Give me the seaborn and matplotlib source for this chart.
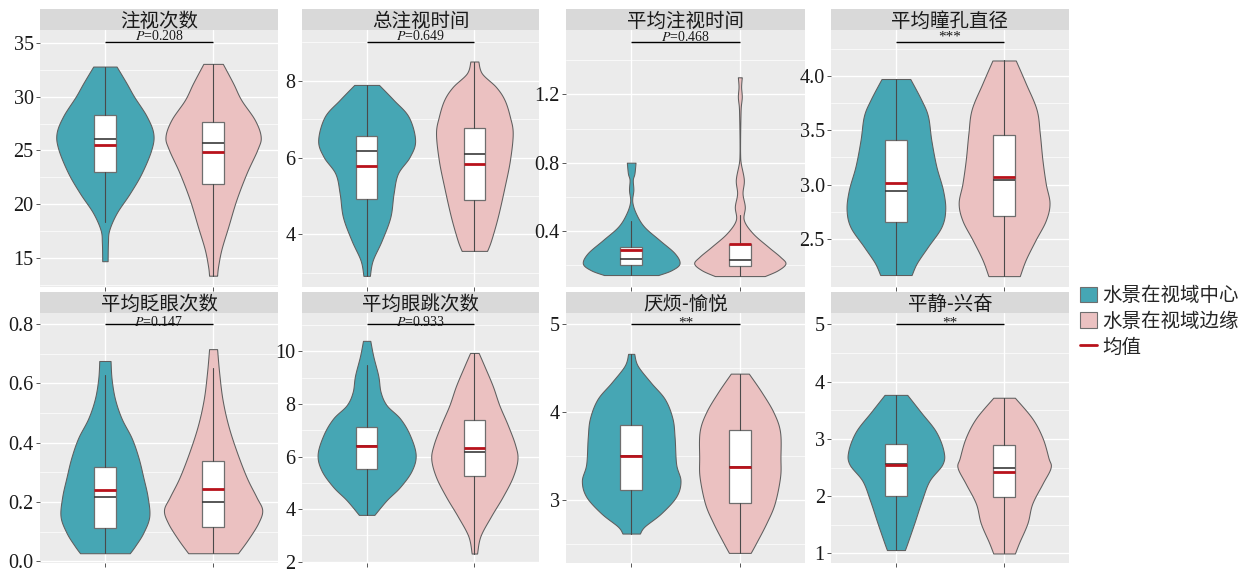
import numpy as np
import matplotlib
matplotlib.use("Agg")
import matplotlib.pyplot as plt
import matplotlib.transforms as mtrans
import seaborn as sns
from matplotlib.patches import Patch
from matplotlib.lines import Line2D
from matplotlib.ticker import MultipleLocator, AutoMinorLocator, FormatStrFormatter
from matplotlib.font_manager import FontProperties

# ---------------- data ----------------
titles = ["注视次数", "总注视时间", "平均注视时间", "平均瞳孔直径",
          "平均眨眼次数", "平均眼跳次数", "厌烦-愉悦", "平静-兴奋"]
groups = ["水景在视域中心", "水景在视域边缘"]
mean_label = "均值"

# significance annotations (bar height and label)
sig_y = [35.06, 9.0, 1.504, 4.31, 0.80, 11.03, 5.0, 5.0]
sig_p = ["0.208", "0.649", "0.468", None, "0.147", "0.933", None, None]
sig_stars = [None, None, None, "***", None, None, "**", "**"]

# violin density profiles: value levels and half-widths (group 1 = centre, group 2 = edge)
center_vy = [
    [32.8, 31.25, 30.0, 28.2, 26.6, 25.1, 22.9, 21.0, 19.2, 17.6, 16.4, 14.7],
    [7.89, 7.5, 7.06, 6.45, 6.02, 5.58, 5.06, 4.45, 3.84, 3.32, 2.92],
    [0.80, 0.737, 0.70, 0.64, 0.572, 0.50, 0.425, 0.347, 0.27, 0.21, 0.17, 0.142],
    [3.97, 3.78, 3.63, 3.41, 3.17, 2.95, 2.77, 2.61, 2.43, 2.28, 2.17],
    [0.676, 0.615, 0.548, 0.482, 0.416, 0.35, 0.283, 0.217, 0.151, 0.096, 0.052, 0.027],
    [10.4, 9.81, 9.07, 8.45, 7.95, 7.45, 6.83, 6.08, 5.46, 4.84, 4.34, 3.78],
    [4.665, 4.53, 4.34, 4.15, 3.93, 3.71, 3.41, 3.22, 3.04, 2.85, 2.70, 2.62],
    [3.77, 3.47, 3.13, 2.79, 2.56, 2.27, 1.93, 1.53, 1.19, 1.06],
]
center_vw = [
    [0.108, 0.20, 0.27, 0.385, 0.447, 0.43, 0.34, 0.23, 0.11, 0.04, 0.028, 0.025],
    [0.115, 0.25, 0.39, 0.45, 0.40, 0.29, 0.25, 0.22, 0.14, 0.056, 0.03],
    [0.04, 0.03, 0.015, 0.02, 0.01, 0.046, 0.12, 0.26, 0.40, 0.445, 0.37, 0.25],
    [0.133, 0.234, 0.296, 0.327, 0.373, 0.435, 0.456, 0.42, 0.296, 0.194, 0.145],
    [0.052, 0.062, 0.093, 0.154, 0.247, 0.31, 0.355, 0.395, 0.41, 0.355, 0.28, 0.23],
    [0.034, 0.062, 0.108, 0.13, 0.186, 0.31, 0.40, 0.455, 0.418, 0.31, 0.186, 0.072],
    [0.028, 0.06, 0.18, 0.31, 0.38, 0.40, 0.414, 0.454, 0.414, 0.276, 0.123, 0.08],
    [0.105, 0.23, 0.37, 0.44, 0.43, 0.31, 0.24, 0.17, 0.108, 0.083],
]
edge_vy = [
    [33.05, 31.25, 29.7, 27.85, 26.3, 25.1, 22.9, 20.4, 17.9, 15.8, 14.2, 13.35],
    [8.5, 8.19, 7.84, 7.5, 7.06, 6.63, 5.93, 5.23, 4.45, 3.84, 3.57],
    [1.30, 1.245, 1.186, 1.128, 1.07, 0.95, 0.85, 0.796, 0.70, 0.62, 0.542, 0.464,
     0.386, 0.308, 0.25, 0.21, 0.17, 0.136],
    [4.14, 3.93, 3.69, 3.47, 3.23, 3.01, 2.83, 2.67, 2.49, 2.31, 2.16],
    [0.716, 0.637, 0.548, 0.46, 0.372, 0.283, 0.217, 0.173, 0.129, 0.074, 0.027],
    [9.94, 9.44, 8.69, 7.95, 7.2, 6.45, 5.9, 5.22, 4.47, 3.73, 2.97, 2.31],
    [4.44, 4.23, 4.0, 3.78, 3.48, 3.26, 2.96, 2.74, 2.52, 2.40],
    [3.72, 3.36, 3.02, 2.67, 2.5, 2.22, 1.87, 1.53, 1.19, 1.0],
]
edge_vw = [
    [0.09, 0.185, 0.26, 0.385, 0.44, 0.41, 0.31, 0.215, 0.14, 0.077, 0.046, 0.037],
    [0.037, 0.07, 0.2, 0.28, 0.33, 0.356, 0.33, 0.28, 0.217, 0.155, 0.118],
    [0.018, 0.012, 0.018, 0.009, 0.006, 0.003, 0.003, 0.009, 0.037, 0.025, 0.046, 0.037,
     0.12, 0.26, 0.37, 0.42, 0.35, 0.23],
    [0.108, 0.2, 0.3, 0.33, 0.354, 0.385, 0.42, 0.385, 0.29, 0.2, 0.145],
    [0.037, 0.056, 0.086, 0.139, 0.216, 0.31, 0.40, 0.454, 0.417, 0.324, 0.23],
    [0.04, 0.093, 0.17, 0.232, 0.31, 0.378, 0.40, 0.356, 0.263, 0.155, 0.056, 0.025],
    [0.083, 0.2, 0.31, 0.37, 0.374, 0.37, 0.32, 0.245, 0.153, 0.1],
    [0.1, 0.26, 0.355, 0.41, 0.43, 0.355, 0.26, 0.216, 0.139, 0.1],
]

# box statistics per panel
center_q1 = [22.96, 4.92, 0.200, 2.66, 0.113, 5.53, 3.12, 2.00]
center_med = [26.06, 6.17, 0.238, 2.94, 0.216, 6.39, 3.50, 2.56]
center_q3 = [28.25, 6.56, 0.308, 3.41, 0.319, 7.11, 3.86, 2.91]
center_lo = [18.3, 2.92, 0.142, 2.17, 0.027, 3.78, 2.62, 1.06]
center_hi = [32.8, 7.89, 0.460, 3.97, 0.628, 9.47, 4.665, 3.77]
center_mean = [25.5, 5.78, 0.289, 3.015, 0.239, 6.39, 3.50, 2.54]

edge_q1 = [21.9, 4.90, 0.197, 2.71, 0.116, 5.27, 2.97, 1.98]
edge_med = [25.7, 6.08, 0.230, 3.04, 0.200, 6.19, 3.38, 2.50]
edge_q3 = [27.6, 6.77, 0.322, 3.46, 0.340, 7.40, 3.80, 2.89]
edge_lo = [13.35, 3.57, 0.136, 2.16, 0.027, 2.31, 2.40, 1.00]
edge_hi = [33.05, 8.5, 0.494, 4.14, 0.653, 9.94, 4.44, 3.72]
edge_mean = [24.9, 5.84, 0.322, 3.07, 0.243, 6.31, 3.38, 2.43]

# axis layout per panel
y_limits = [(12.3, 36.2), (2.63, 9.32), (0.072, 1.577), (2.06, 4.42),
            (-0.006, 0.838), (1.95, 11.46), (2.285, 5.13), (0.834, 5.2)]
y_steps = [5, 2, 0.4, 0.5, 0.2, 2, 1, 1]
y_decimals = [0, 0, 1, 1, 1, 0, 0, 0]

# ---------------- style ----------------
teal = "#46A6B4"
pink = "#EBC1C1"
mean_red = "#B8121B"
outline = "#5E5E5E"

sns.set_theme(style="darkgrid", rc={
    "axes.facecolor": "#EBEBEB",
    "grid.color": "white",
    "axes.edgecolor": "#EBEBEB",
})
plt.rcParams["font.family"] = ["Liberation Serif", "Noto Sans CJK SC"]
plt.rcParams["mathtext.fontset"] = "stix"

W, H = 1252, 572
fig = plt.figure(figsize=(W / 100, H / 100), dpi=100)
fig.patch.set_facecolor("white")

col_px = [(40, 278), (302, 539), (566, 805), (831, 1069)]
row_px = [(9, 30, 287), (292, 313, 563)]   # strip top, panel top, panel bottom


def rect(l, t, r, b):
    return [l / W, 1 - b / H, (r - l) / W, (b - t) / H]


def smooth_profile(y, w, n=10):
    pts = np.column_stack([y, w]).astype(float)
    ext = np.vstack([pts[0], pts, pts[-1]])
    out = []
    t = np.linspace(0, 1, n, endpoint=False)[:, None]
    for i in range(1, len(ext) - 2):
        p0, p1, p2, p3 = ext[i - 1], ext[i], ext[i + 1], ext[i + 2]
        seg = 0.5 * ((2 * p1) + (-p0 + p2) * t + (2 * p0 - 5 * p1 + 4 * p2 - p3) * t ** 2
                     + (-p0 + 3 * p1 - 3 * p2 + p3) * t ** 3)
        out.append(seg)
    out.append(pts[-1][None, :])
    out = np.vstack(out)
    return out[:, 0], np.clip(out[:, 1], 0.002, None)


def draw_group(ax, x0, vy, vw, color, q1, med, q3, lo, hi, mean):
    yy, ww = smooth_profile(vy, vw)
    ax.fill_betweenx(yy, x0 - ww, x0 + ww, facecolor=color, edgecolor=outline,
                     linewidth=0.75, zorder=2)
    ax.bxp([{"q1": q1, "med": med, "q3": q3, "whislo": lo, "whishi": hi, "fliers": []}],
           positions=[x0], widths=0.2, patch_artist=True, showcaps=False,
           showfliers=False, manage_ticks=False,
           boxprops=dict(facecolor="white", edgecolor="#6E6E6E", linewidth=0.9),
           whiskerprops=dict(color="#4A4A4A", linewidth=0.8),
           medianprops=dict(color="#3A3A3A", linewidth=1.2),
           zorder=3)
    ax.hlines(mean, x0 - 0.1, x0 + 0.1, color=mean_red, linewidth=2.0, zorder=5)


for i in range(8):
    r, c = divmod(i, 4)
    strip_top, panel_top, panel_bot = row_px[r]
    left, right = col_px[c]

    ax = fig.add_axes(rect(left, panel_top, right, panel_bot))
    draw_group(ax, 0, center_vy[i], center_vw[i], teal,
               center_q1[i], center_med[i], center_q3[i], center_lo[i], center_hi[i],
               center_mean[i])
    draw_group(ax, 1, edge_vy[i], edge_vw[i], pink,
               edge_q1[i], edge_med[i], edge_q3[i], edge_lo[i], edge_hi[i],
               edge_mean[i])

    ax.set_xlim(-0.6, 1.6)
    ax.set_ylim(*y_limits[i])
    ax.set_xticks([0, 1])
    ax.set_xticklabels([])
    ax.yaxis.set_major_locator(MultipleLocator(y_steps[i]))
    ax.yaxis.set_minor_locator(AutoMinorLocator(2))
    ax.yaxis.set_major_formatter(FormatStrFormatter(f"%.{y_decimals[i]}f"))
    ax.grid(which="major", color="white", linewidth=1.0)
    ax.grid(which="minor", axis="y", color="white", linewidth=0.5)
    ax.tick_params(axis="both", which="major", length=3, width=0.7, color="#555555",
                   direction="out", left=True, bottom=True, pad=1.5)
    ax.tick_params(axis="y", which="minor", length=0)
    ax.tick_params(axis="y", labelsize=14.5, labelcolor="#1A1A1A")
    for lab in ax.get_yticklabels():
        lab.set_family("Liberation Serif")
    for s in ax.spines.values():
        s.set_visible(False)

    # significance bar and label
    ax.plot([0, 1], [sig_y[i], sig_y[i]], color="black", linewidth=1.0, zorder=6,
            solid_capstyle="butt")
    dy = 1.3 if r == 0 else -1.5
    trans = mtrans.offset_copy(ax.transData, fig=fig, y=dy, units="points")
    if sig_p[i] is not None:
        label = r"$\mathit{P}$=" + sig_p[i]
        fs = 10
    else:
        label = sig_stars[i]
        fs = 11
    ax.text(0.5, sig_y[i], label, transform=trans, ha="center", va="baseline",
            fontsize=fs, family="Liberation Serif", color="#1A1A1A", zorder=7,
            clip_on=True)

    # facet strip
    sax = fig.add_axes(rect(left, strip_top, right, panel_top))
    sax.set_facecolor("#D9D9D9")
    sax.set_xticks([])
    sax.set_yticks([])
    sax.grid(False)
    for s in sax.spines.values():
        s.set_visible(False)
    sax.text(0.5, 0.42, titles[i], transform=sax.transAxes, ha="center", va="center",
             fontsize=14, family=["Noto Sans CJK SC"], color="#1A1A1A")

handles = [
    Patch(facecolor=teal, edgecolor="#6E6E6E", linewidth=0.8),
    Patch(facecolor=pink, edgecolor="#6E6E6E", linewidth=0.8),
    Line2D([0], [0], color=mean_red, linewidth=2.0),
]
fig.legend(handles, groups + [mean_label], loc="upper left",
           bbox_to_anchor=(1080 / W, 1 - 285 / H), frameon=False,
           prop=FontProperties(family="Noto Sans CJK SC", size=14),
           handlelength=0.85, handleheight=0.85, handletextpad=0.3,
           labelspacing=0.25, borderaxespad=0, borderpad=0)

fig.savefig("out.png", dpi=100, facecolor="white")
